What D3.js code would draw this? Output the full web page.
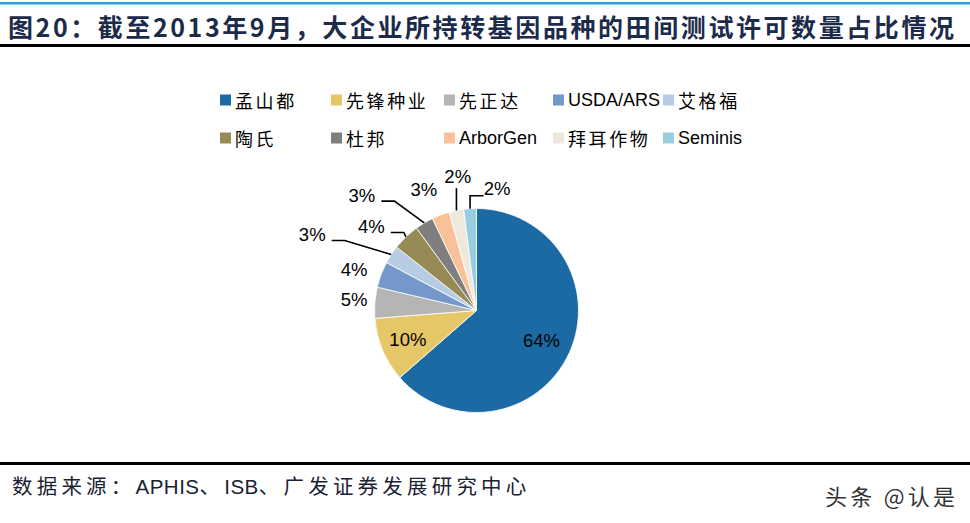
<!DOCTYPE html>
<html lang="zh">
<head>
<meta charset="UTF-8">
<title>大企业所持转基因品种的田间测试许可数量占比</title>
<script src="https://d3js.org/d3.v7.min.js"></script>
<style>
  body { margin: 0; background: #fff; }
  svg { display: block; }
</style>
</head>
<body>
<svg id="main" width="970" height="523" viewBox="0 0 970 523"></svg>
<script>
// data (share of permits, %)
const companies = ['孟山都', '先锋种业', '先正达', 'USDA/ARS', '艾格福', '陶氏', '杜邦', 'ArborGen', '拜耳作物', 'Seminis'];
const shares = [63.5, 10.2, 4.9, 4.1, 2.9, 4.3, 2.9, 2.8, 2.3, 2.0];
const colors = ['#1c6aa4', '#e6c768', '#b5b5b5', '#7398c9', '#b8cbe4', '#968b55', '#7f7f7f', '#f8c197', '#efe8dc', '#97cddf'];

const title = '图20：截至2013年9月，大企业所持转基因品种的田间测试许可数量占比情况';
const source = '数据来源：APHIS、ISB、广发证券发展研究中心';

// label placement like the hand-moved labels in the original (radius factor, angle shift, leader type)
const labelLayout = [
  { k: 0.70, da: 0,     leader: null },
  { k: 0.73, da: 0,     leader: null },
  { k: 1.205, da: 0.6,  leader: null },
  { k: 1.265, da: -2.2, leader: null },
  { k: 1.775, da: -8.4, leader: 'left' },
  { k: 1.32, da: -7.6,  leader: 'left' },
  { k: 1.594, da: -14,  leader: 'left' },
  { k: 1.29, da: -3,    leader: null },
  { k: 1.33, da: 3.4,   leader: 'up' },
  { k: 1.21, da: 13.2,  leader: 'right' }
];

const svg = d3.select('#main');
const cjk = '"Noto Sans CJK SC", sans-serif';
const latin = '"Liberation Sans", Arial, sans-serif';
const mixed = '"Liberation Sans", "Noto Sans CJK SC", sans-serif';

// header
svg.append('rect').attr('x', 0).attr('y', 2).attr('width', 970).attr('height', 2.5).attr('fill', '#2aa3dc');
svg.append('text')
    .attr('x', 8).attr('y', 26)
    .attr('dominant-baseline', 'central')
    .attr('textLength', 946).attr('lengthAdjust', 'spacing')
    .style('font-family', cjk).style('font-weight', 'bold').style('font-size', '25px')
    .attr('fill', '#1c2b4a')
    .text(title);
svg.append('rect').attr('x', 0).attr('y', 44).attr('width', 970).attr('height', 3).attr('fill', '#000');

// legend
const legendCols = [220, 331, 444, 553, 663];
const legendRows = [100, 138];
const legend = svg.append('g').selectAll('g')
    .data(companies)
    .join('g')
    .attr('transform', (d, i) => `translate(${legendCols[i % 5]},${legendRows[Math.floor(i / 5)]})`);
legend.append('rect')
    .attr('x', 0).attr('y', -5.5).attr('width', 11).attr('height', 11)
    .attr('fill', (d, i) => colors[i]);
legend.append('text')
    .attr('x', 15).attr('y', 0)
    .attr('dominant-baseline', 'central')
    .style('font-family', d => /[A-Za-z]/.test(d) ? latin : cjk)
    .style('font-size', '18px')
    .style('letter-spacing', d => /[A-Za-z]/.test(d) ? '0px' : '2.6px')
    .attr('fill', '#000')
    .text(d => d);

// pie
const cx = 476.5, cy = 310.5, r = 102;
const pie = d3.pie().sort(null).value(d => d);
const arcs = pie(shares);
const arc = d3.arc().innerRadius(0).outerRadius(r);

const g = svg.append('g').attr('transform', `translate(${cx},${cy})`);
g.selectAll('path')
    .data(arcs)
    .join('path')
    .attr('d', arc)
    .attr('fill', (d, i) => colors[i])
    .attr('stroke', '#fff')
    .attr('stroke-width', 0.8);

const fmt = v => Math.round(v) + '%';
const polar = (ang, rad) => [Math.sin(ang) * rad, -Math.cos(ang) * rad];
const toRad = Math.PI / 180;

const labels = arcs.map((d, i) => {
  const mid = (d.startAngle + d.endAngle) / 2;
  const lay = labelLayout[i];
  const [x, y] = polar(mid + lay.da * toRad, r * lay.k);
  return { d, i, mid, x, y, lay, text: fmt(d.data) };
});

g.selectAll('text.lbl')
    .data(labels)
    .join('text')
    .attr('class', 'lbl')
    .attr('x', d => d.x).attr('y', d => d.y)
    .attr('text-anchor', 'middle')
    .attr('dominant-baseline', 'central')
    .style('font-family', latin).style('font-size', '18.5px')
    .attr('fill', '#000')
    .text(d => d.text);

// leader lines
const halfW = 12.5;
const line = d3.line();
g.selectAll('path.leader')
    .data(labels.filter(d => d.lay.leader))
    .join('path')
    .attr('class', 'leader')
    .attr('fill', 'none')
    .attr('stroke', '#000')
    .attr('stroke-width', 1.6)
    .attr('d', d => {
      const p0 = polar(d.mid, r);
      if (d.lay.leader === 'left') {
        const y = d.y + 6;
        const x2 = d.x + halfW + 7;
        return line([p0, [x2 + 13, y], [x2, y]]);
      }
      if (d.lay.leader === 'up') {
        return line([p0, [p0[0], d.y + 12]]);
      }
      const y = d.y + 7;
      return line([p0, [p0[0], y], [d.x - halfW - 1, y]]);
    });

// footer
svg.append('rect').attr('x', 0).attr('y', 462).attr('width', 970).attr('height', 3).attr('fill', '#000');
const src = svg.append('text')
    .attr('x', 12).attr('y', 486)
    .attr('dominant-baseline', 'central')
    .style('font-family', mixed).style('font-size', '20.5px')
    .attr('fill', '#1a2233');
// CJK parts are spaced out, latin parts are set tight
source.split(/([A-Za-z]+)/).filter(s => s).forEach(s => {
  src.append('tspan')
      .style('letter-spacing', /[A-Za-z]/.test(s) ? '0.5px' : '4.2px')
      .text(s);
});
svg.append('text')
    .attr('x', 825).attr('y', 495)
    .attr('dominant-baseline', 'central')
    .attr('textLength', 130).attr('lengthAdjust', 'spacing')
    .style('font-family', cjk).style('font-size', '22px')
    .attr('fill', '#333')
    .text('头条 @认是');
</script>
</body>
</html>
